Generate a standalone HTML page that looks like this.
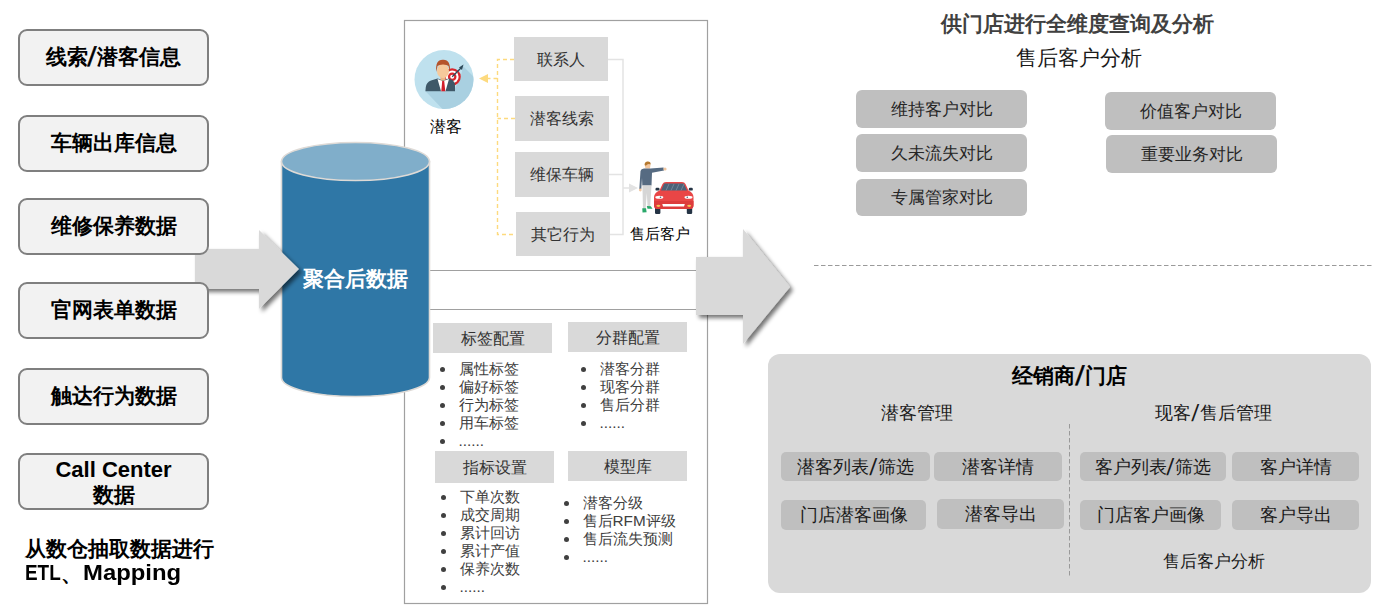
<!DOCTYPE html>
<html><head><meta charset="utf-8">
<style>
html,body{margin:0;padding:0;}
body{width:1383px;height:613px;position:relative;overflow:hidden;background:#fff;font-family:"Liberation Sans",sans-serif;}
.t{position:absolute;white-space:nowrap;line-height:1;text-align:center;}
.lb{position:absolute;left:18px;width:187px;height:53px;border:2px solid #7f7f7f;border-radius:9px;background:#f2f2f2;box-sizing:content-box;}
.lbt{position:absolute;left:18px;width:191px;font-weight:bold;font-size:21px;color:#000;text-align:center;line-height:1;white-space:nowrap;}
.gb{position:absolute;background:#d9d9d9;}
.gbt{position:absolute;font-size:15.5px;color:#333;text-align:center;line-height:1;white-space:nowrap;}
.btn{position:absolute;background:#bfbfbf;border-radius:6px;}
.btnt{position:absolute;font-size:17px;color:#262626;text-align:center;line-height:1;white-space:nowrap;}
.ib{position:absolute;background:#bfbfbf;border-radius:5px;}
.ibt{position:absolute;font-size:18px;color:#1a1a1a;text-align:center;line-height:1;white-space:nowrap;}
.li{position:absolute;font-size:15.3px;color:#404040;line-height:18px;white-space:nowrap;}
.li div{position:relative;padding-left:18.5px;}
.sl{font-size:1.3em;margin:0 1.5px 0 0.5px;line-height:0;vertical-align:-0.08em;display:inline-block;transform:skewX(-5deg);}
.lbt .sl,.bsl{font-weight:normal;-webkit-text-stroke:0.6px #000;}
.li div:before{content:"";position:absolute;left:-0.5px;top:6.5px;width:5px;height:5px;border-radius:50%;background:#404040;}
</style></head><body>

<svg width="1383" height="613" style="position:absolute;left:0;top:0">
<defs>
<filter id="sh" x="-20%" y="-20%" width="150%" height="150%">
<feGaussianBlur in="SourceAlpha" stdDeviation="2"/>
<feOffset dx="3" dy="3" result="o"/>
<feComponentTransfer><feFuncA type="linear" slope="0.55"/></feComponentTransfer>
<feMerge><feMergeNode/><feMergeNode in="SourceGraphic"/></feMerge>
</filter>
</defs>
<!-- middle panel -->
<rect x="404.5" y="20.5" width="303" height="583" fill="none" stroke="#a0a0a0" stroke-width="1.2"/>
<line x1="404" y1="270.5" x2="708" y2="270.5" stroke="#a0a0a0" stroke-width="1.2"/>
<line x1="404" y1="309.5" x2="708" y2="309.5" stroke="#a0a0a0" stroke-width="1.2"/>

<!-- cylinder -->
<path d="M281.5,161.5 L281.5,377.5 A74,19 0 0 0 429.5,377.5 L429.5,161.5 Z" fill="#2f77a6" stroke="#dedad6" stroke-width="1.6"/>
<ellipse cx="355.5" cy="161.5" rx="74" ry="19" fill="#80aeca" stroke="#dedad6" stroke-width="1.6"/>

<!-- left arrow -->
<path d="M195,249 L259,249 L259,230 L299,269 L259,309 L259,289 L195,289 Z" fill="#d9d9d9" filter="url(#sh)"/>

<!-- big arrow -->
<path d="M696,257 L743,257 L743,229 L790,287 L743,344 L743,315 L696,315 Z" fill="#d9d9d9" filter="url(#sh)"/>

<!-- yellow dashed connectors -->
<g stroke="#fdda7e" stroke-width="1.4" fill="none" stroke-dasharray="4,3">
<path d="M514,59.5 L497.5,59.5 L497.5,234.5 L516,234.5"/>
<path d="M515,118.5 L497.5,118.5"/>
<path d="M497.5,78.5 L486,78.5"/>
</g>
<path d="M479,78.5 L488,74 L488,83 Z" fill="#fdda7e"/>

<!-- gray connectors -->
<g stroke="#e3e3e3" stroke-width="1.5" fill="none">
<path d="M608,59.5 L623,59.5 L623,234.5 L610,234.5"/>
<path d="M609,174.5 L623,174.5"/>
<path d="M623,188 L630,188"/>
</g>
<path d="M638,188 L629,183.5 L629,192.5 Z" fill="#e3e3e3"/>

<!-- dashed horizontal right -->
<line x1="814" y1="265.5" x2="1372" y2="265.5" stroke="#9a9a9a" stroke-width="1" stroke-dasharray="4.5,2.5"/>

<!-- right bottom panel -->
<rect x="768" y="354" width="603" height="239" rx="12" ry="12" fill="#d9d9d9"/>
<line x1="1069.5" y1="424" x2="1069.5" y2="576" stroke="#999" stroke-width="1" stroke-dasharray="4.5,2.5"/>

<!-- icon: potential customer -->
<clipPath id="cc"><circle cx="444" cy="79.5" r="29.5"/></clipPath>
<g>
<circle cx="444" cy="79.5" r="29.5" fill="#bfe1ee"/>
<path d="M425.5,91.2 L454,91.2 L457,84 L461,76 L463,66 L510,113 L472,140 Z" fill="#a9d0e1" clip-path="url(#cc)"/>
<circle cx="452.2" cy="76.8" r="8.6" fill="#d9262c"/>
<circle cx="452.2" cy="76.8" r="6.4" fill="#fff"/>
<circle cx="452.2" cy="76.8" r="4.3" fill="#d9262c"/>
<circle cx="452.2" cy="76.8" r="2" fill="#fff"/>
<line x1="452.2" y1="76.8" x2="461" y2="68" stroke="#2d4a5a" stroke-width="1.3"/>
<path d="M459,67.5 L463.5,64.5 L462,70 Z" fill="#2d4a5a"/>
<path d="M425.4,91.2 L425.8,87 Q426.5,82 431,80.5 L437.5,78.5 L443,80 L449,78.5 L452.5,80 Q455,82 455,86 L455,91.2 Z" fill="#3f5868"/>
<path d="M437.5,79 L441,91.2 L445.5,91.2 L449,79 L443,81 Z" fill="#fff"/>
<path d="M442.2,81 L444.2,81 L445.3,91.2 L441.3,91.2 Z" fill="#d21f2b"/>
<rect x="440.5" y="76" width="5" height="4.5" fill="#e9b485"/>
<ellipse cx="443" cy="71" rx="6" ry="7.2" fill="#f6c99b"/>
<path d="M436.3,72 Q435,59.5 443,59.8 Q451,59.5 449.8,72 L448.5,66 Q447,64.5 443,64.5 Q439,64.5 437.5,66 Z" fill="#b5532a"/>
</g>
<!-- icon: person + car -->
<g>
<path d="M644.8,166 Q644.6,161.8 647.8,161.8 Q650.6,162 650.4,165.5 L650,168.5 L645.5,168.5 Z" fill="#f2c7a0"/>
<path d="M644.6,165 Q644.5,161.5 647.8,161.5 Q651,161.6 650.6,164.5 Q648,163 645.8,165.8 Z" fill="#b5792f"/>
<path d="M640.5,171 Q641,168.8 644,168.6 L650.5,168.6 L663.5,167.6 L664,170.5 L652,172.8 L651.5,185.5 L642.3,185.5 L642,178 L641.3,189 L639.3,189 Z" fill="#566b82"/>
<circle cx="640.3" cy="190" r="1.4" fill="#f2c7a0"/>
<circle cx="665" cy="169" r="1.6" fill="#f2c7a0"/>
<path d="M642.4,185.5 L651.5,185.5 L650.2,207 L647.6,207 L646.8,193 L645.6,209 L643,209 Z" fill="#d6d6d6"/>
<path d="M642.3,208.3 L646,208.3 L646.6,212.3 L642.5,212.5 Z" fill="#2aa86a"/>
<path d="M646.8,206 L650.8,206.3 L652.5,208.8 L647.5,208.8 Z" fill="#2aa86a"/>
<rect x="655" y="206" width="5.4" height="8" rx="1.2" fill="#253445"/>
<rect x="686.8" y="206" width="5.4" height="8" rx="1.2" fill="#253445"/>
<rect x="655.5" y="187.8" width="4" height="2.8" rx="1.2" fill="#253445"/>
<rect x="688.8" y="187.8" width="4" height="2.8" rx="1.2" fill="#253445"/>
<path d="M659.5,190.5 L662.5,184 Q663.5,182 666,182 L682,182 Q684.5,182 685.5,184 L688.5,190.5 Q693.3,192.5 693.5,197 L693.5,205 Q693.5,209 690,209 L657.5,209 Q654,209 654,205 L654,197 Q654.3,192.5 659.5,190.5 Z" fill="#e94646"/>
<path d="M654,201 L693.5,201 L693.5,205 Q693.5,209 690,209 L657.5,209 Q654,209 654,205 Z" fill="#dd3c3c"/>
<path d="M661,190.6 L664.2,183.6 L683.8,183.6 L687,190.6 Z" fill="#4d6278"/>
<g stroke="#8a9bad" stroke-width="0.6"><line x1="666" y1="190.5" x2="669" y2="184"/><line x1="671" y1="190.5" x2="674" y2="184"/><line x1="676" y1="190.5" x2="679" y2="184"/><line x1="681" y1="190.5" x2="684" y2="184"/></g>
<ellipse cx="659.3" cy="197.3" rx="4" ry="1.5" fill="#fff"/>
<ellipse cx="688.5" cy="197.3" rx="4" ry="1.5" fill="#fff"/>
<circle cx="660.5" cy="197.3" r="0.8" fill="#4d6278"/>
<circle cx="687.3" cy="197.3" r="0.8" fill="#4d6278"/>
<path d="M662.3,204 L684.8,204 L684,206.5 L663,206.5 Z" fill="#fff"/>
<ellipse cx="658.4" cy="205.8" rx="2" ry="1.1" fill="#f6c453"/>
<ellipse cx="689.2" cy="205.8" rx="2" ry="1.1" fill="#f6c453"/>
</g>
</svg>

<!-- left boxes -->
<div class="lb" style="top:29px"></div>
<div class="lb" style="top:115px"></div>
<div class="lb" style="top:198px"></div>
<div class="lb" style="top:282px"></div>
<div class="lb" style="top:368px"></div>
<div class="lb" style="top:453px"></div>
<div class="lbt" style="top:46px">线索<span class="sl">/</span>潜客信息</div>
<div class="lbt" style="top:132px">车辆出库信息</div>
<div class="lbt" style="top:215px">维修保养数据</div>
<div class="lbt" style="top:299px">官网表单数据</div>
<div class="lbt" style="top:385px">触达行为数据</div>
<div class="lbt" style="top:457px;line-height:25px"><span style="font-size:22px">Call Center</span><br>数据</div>
<div class="t" style="left:25px;top:537px;font-size:21px;font-weight:bold;text-align:left;line-height:24px">从数仓抽取数据进行</div>
<div class="t" id="etl" style="left:25px;top:562px;font-size:22px;font-weight:bold;text-align:left;transform:scaleX(0.86);transform-origin:0 0">ETL</div>
<div class="t" style="left:61px;top:563px;font-size:21px;font-weight:bold;text-align:left">、</div>
<div class="t" id="map" style="left:83px;top:562px;font-size:22px;font-weight:bold;text-align:left;transform:scaleX(1.085);transform-origin:0 0">Mapping</div>

<!-- cylinder text -->
<div class="t" style="left:295px;width:120px;top:268px;font-size:21px;font-weight:bold;color:#fff">聚合后数据</div>

<!-- middle top -->
<div class="t" style="left:416px;width:60px;top:118.5px;font-size:15.8px;color:#000">潜客</div>
<div class="gb" style="left:514px;top:37px;width:94px;height:44px"></div>
<div class="gb" style="left:515px;top:96px;width:94px;height:45px"></div>
<div class="gb" style="left:515px;top:152px;width:94px;height:45px"></div>
<div class="gb" style="left:516px;top:212px;width:94px;height:44px"></div>
<div class="gbt" style="left:514px;width:94px;top:52px">联系人</div>
<div class="gbt" style="left:515px;width:94px;top:111px">潜客线索</div>
<div class="gbt" style="left:515px;width:94px;top:167px">维保车辆</div>
<div class="gbt" style="left:516px;width:94px;top:227px">其它行为</div>
<div class="t" style="left:620px;width:80px;top:226px;font-size:15px;color:#000">售后客户</div>

<!-- middle bottom -->
<div class="gb" style="left:433px;top:323px;width:119px;height:30px"></div>
<div class="gb" style="left:568px;top:322px;width:119px;height:30px"></div>
<div class="gb" style="left:435px;top:451px;width:119px;height:32px"></div>
<div class="gb" style="left:568px;top:451px;width:119px;height:30px"></div>
<div class="gbt" style="left:433px;width:119px;top:331px">标签配置</div>
<div class="gbt" style="left:568px;width:119px;top:330px">分群配置</div>
<div class="gbt" style="left:435px;width:119px;top:460px">指标设置</div>
<div class="gbt" style="left:568px;width:119px;top:459px">模型库</div>

<div class="li" style="left:440px;top:360px"><div>属性标签</div><div>偏好标签</div><div>行为标签</div><div>用车标签</div><div>......</div></div>
<div class="li" style="left:581px;top:360px"><div>潜客分群</div><div>现客分群</div><div>售后分群</div><div>......</div></div>
<div class="li" style="left:441px;top:488px"><div>下单次数</div><div>成交周期</div><div>累计回访</div><div>累计产值</div><div>保养次数</div><div>......</div></div>
<div class="li" style="left:564px;top:494px"><div>潜客分级</div><div>售后RFM评级</div><div>售后流失预测</div><div>......</div></div>

<!-- right top -->
<div class="t" style="left:930px;width:294px;top:13px;font-size:21px;font-weight:bold;color:#404040">供门店进行全维度查询及分析</div>
<div class="t" style="left:1000px;width:157px;top:47px;font-size:21px;color:#1a1a1a">售后客户分析</div>
<div class="btn" style="left:856px;top:90px;width:171px;height:38px"></div>
<div class="btn" style="left:856px;top:134px;width:171px;height:38px"></div>
<div class="btn" style="left:856px;top:179px;width:171px;height:37px"></div>
<div class="btn" style="left:1105px;top:92px;width:171px;height:38px"></div>
<div class="btn" style="left:1106px;top:135px;width:171px;height:38px"></div>
<div class="btnt" style="left:856px;width:171px;top:101px">维持客户对比</div>
<div class="btnt" style="left:856px;width:171px;top:145px">久未流失对比</div>
<div class="btnt" style="left:856px;width:171px;top:189px">专属管家对比</div>
<div class="btnt" style="left:1105px;width:171px;top:103px">价值客户对比</div>
<div class="btnt" style="left:1106px;width:171px;top:146px">重要业务对比</div>

<!-- right bottom panel text -->
<div class="t" style="left:968px;width:203px;top:365px;font-size:21px;font-weight:bold;color:#000">经销商<span class="sl bsl">/</span>门店</div>
<div class="t" style="left:857px;width:120px;top:404px;font-size:18px;color:#1a1a1a">潜客管理</div>
<div class="t" style="left:1140px;width:147px;top:404px;font-size:18px;color:#1a1a1a">现客<span class="sl">/</span>售后管理</div>
<div class="ib" style="left:781px;top:452px;width:149px;height:29px"></div>
<div class="ib" style="left:934px;top:452px;width:128px;height:29px"></div>
<div class="ib" style="left:781px;top:500px;width:145px;height:30px"></div>
<div class="ib" style="left:937px;top:499px;width:127px;height:30px"></div>
<div class="ib" style="left:1080px;top:452px;width:146px;height:29px"></div>
<div class="ib" style="left:1232px;top:452px;width:127px;height:29px"></div>
<div class="ib" style="left:1080px;top:500px;width:141px;height:30px"></div>
<div class="ib" style="left:1232px;top:500px;width:127px;height:30px"></div>
<div class="ibt" style="left:781px;width:149px;top:458px">潜客列表<span class="sl">/</span>筛选</div>
<div class="ibt" style="left:934px;width:128px;top:458px">潜客详情</div>
<div class="ibt" style="left:781px;width:145px;top:506px">门店潜客画像</div>
<div class="ibt" style="left:937px;width:127px;top:505px">潜客导出</div>
<div class="ibt" style="left:1080px;width:146px;top:458px">客户列表<span class="sl">/</span>筛选</div>
<div class="ibt" style="left:1232px;width:127px;top:458px">客户详情</div>
<div class="ibt" style="left:1080px;width:141px;top:506px">门店客户画像</div>
<div class="ibt" style="left:1232px;width:127px;top:506px">客户导出</div>
<div class="t" style="left:1150px;width:128px;top:553px;font-size:17px;color:#1a1a1a">售后客户分析</div>

</body></html>
